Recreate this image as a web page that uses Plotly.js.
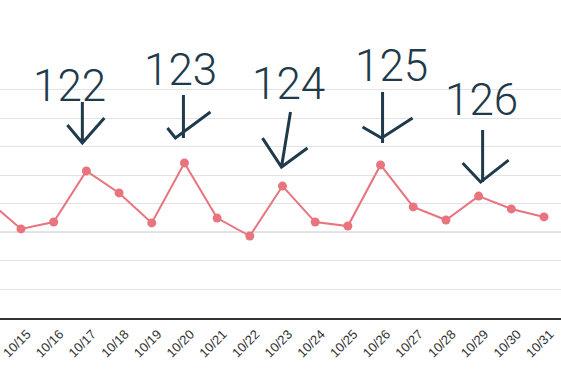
<!DOCTYPE html>
<html>
<head>
<meta charset="utf-8">
<script src="https://cdn.plot.ly/plotly-3.0.1.min.js"></script>
<style>html,body{margin:0;padding:0;background:#fff;}#chart{width:561px;height:370px;}</style>
</head>
<body>
<div id="chart"></div>
<script>
var dates = ["10/14","10/15","10/16","10/17","10/18","10/19","10/20","10/21","10/22","10/23","10/24","10/25","10/26","10/27","10/28","10/29","10/30","10/31"];
var values = [41, 31.2, 33.6, 51.5, 43.8, 33.3, 54.3, 35, 28.7, 46.2, 33.6, 32.2, 53.6, 38.9, 34.3, 42.7, 38.2, 35.4];
var noteLabels = ["122","123","124","125","126"];
var noteDates = ["10/17","10/20","10/23","10/26","10/29"];
var noteShift = [[-17,85],[-4,93],[6,102],[11,99],[3,96]];
var arrowPaths = [
  [[-4,-69],[-4,-28],[-19,-46],[-4,-28],[18,-53]],
  [[-1,-68],[-1,-25],[-17,-35],[-9,-25],[26,-51]],
  [[8,-74],[-1,-19],[-20,-48],[-1,-19],[25,-38]],
  [[2,-73],[2,-22],[-18,-38],[1,-27],[32,-47]],
  [[4,-66],[4,-14],[-16,-33],[2,-14],[30,-36]]
];
var lineColor = "#e8747e";
var inkColor = "#1f3a4b";

var annotations = [];
var shapes = [{type:"line", xref:"paper", x0:0, x1:1, yref:"y", y0:30, y1:30, line:{color:"#c9c9c9", width:1.5}, layer:"below"}];
noteLabels.forEach(function(lbl, i){
  var idx = dates.indexOf(noteDates[i]);
  annotations.push({
    x: idx, y: values[idx], xref:"x", yref:"y",
    text: lbl, showarrow:false,
    xshift: noteShift[i][0], yshift: noteShift[i][1],
    font:{family:"Roboto", size:44, weight:300, color:inkColor}
  });
  var p = arrowPaths[i];
  var path = "M" + p[0][0] + "," + (-p[0][1]) + " L" + p[1][0] + "," + (-p[1][1]) +
             " M" + p[2][0] + "," + (-p[2][1]) + " L" + p[3][0] + "," + (-p[3][1]) + " L" + p[4][0] + "," + (-p[4][1]);
  shapes.push({
    type:"path", xref:"x", yref:"y", xsizemode:"pixel", ysizemode:"pixel",
    xanchor: idx, yanchor: values[idx], path: path,
    line:{color:inkColor, width:3}
  });
});

var trace = {
  x: dates, y: values, type:"scatter", mode:"lines+markers",
  line:{color:lineColor, width:2},
  marker:{color:lineColor, size:9},
  cliponaxis:true, hoverinfo:"none"
};

var layout = {
  width:561, height:370,
  margin:{l:0, r:0, t:61, b:52, pad:0},
  paper_bgcolor:"#fff", plot_bgcolor:"#fff",
  showlegend:false,
  xaxis:{type:"category", range:[0.358, 17.52], showgrid:false, zeroline:false,
         showline:true, linecolor:"#333", linewidth:1.5, ticks:"",
         tickangle:-45, ticklabelshift:6, ticklabelstandoff:2,
         tickfont:{family:"Liberation Sans, Arial", size:13, color:"#333"}},
  yaxis:{range:[0,90], dtick:10, showgrid:true, gridcolor:"#e3e3e3", gridwidth:1,
         zeroline:false, showticklabels:false, ticks:"", showline:false},
  annotations: annotations,
  shapes: shapes
};
Plotly.newPlot("chart", [trace], layout, {displayModeBar:false, staticPlot:true});
</script>
</body>
</html>
